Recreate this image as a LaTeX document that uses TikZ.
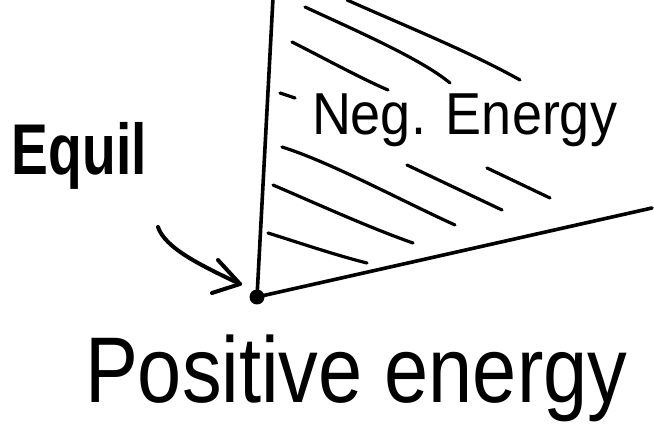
\documentclass[tikz,border=0pt]{standalone}
\usepackage{fontspec}
\setmainfont{Liberation Sans}
\usepackage{graphicx}
\begin{document}
\begin{tikzpicture}[x=1pt,y=-1pt,
  ink/.style={line width=3.6pt,line cap=round,line join=round,black},
  hatch/.style={line width=3.2pt,line cap=round,black},
  label/.style={inner sep=0pt,outer sep=0pt,anchor=base west}]
\useasboundingbox (0,0) rectangle (654,430);
% axes
\coordinate (top) at (273,-2);
\coordinate (right) at (652,208);
\node[circle,fill=black,inner sep=0pt,minimum size=15pt] (equil) at (257,297) {};
\draw[ink] (top) -- (equil.center);
\draw[ink] (equil.center) -- (right);
% hatches
\coordinate (a1) at (347,0);   \coordinate (a2) at (520,80);
\coordinate (b1) at (305,7);   \coordinate (b2) at (450,83);
\coordinate (c1) at (292,42);  \coordinate (c2) at (388,90);
\coordinate (d1) at (280,93);  \coordinate (d2) at (295,98);
\coordinate (e1) at (282,147); \coordinate (e2) at (455,225);
\coordinate (f1) at (407,165); \coordinate (f2) at (502,210);
\coordinate (g1) at (487,168); \coordinate (g2) at (550,198);
\coordinate (h1) at (273,185); \coordinate (h2) at (413,243);
\coordinate (i1) at (268,233); \coordinate (i2) at (367,263);
\draw[hatch] (a1) .. controls (410,28) and (470,52) .. (a2);
\draw[hatch] (b1) .. controls (350,28) and (420,58) .. (b2);
\draw[hatch] (c1) .. controls (320,56) and (360,78) .. (c2);
\draw[hatch] (d1) -- (d2);
\draw[hatch] (e1) .. controls (330,162) and (400,200) .. (e2);
\draw[hatch] (f1) -- (f2);
\draw[hatch] (g1) -- (g2);
\draw[hatch] (h1) .. controls (315,203) and (370,228) .. (h2);
\draw[hatch] (i1) .. controls (300,243) and (335,255) .. (i2);
% labels
\node[label] (neg) at (312,135) {\resizebox*{305pt}{53pt}{Neg. Energy}};
\node[label] (eq) at (12,175) {\resizebox*{135pt}{67pt}{\bfseries Equil}};
\node[label] (pos) at (85,403) {\resizebox*{542pt}{87pt}{Positive energy}};
% arrow
\coordinate (astart) at (158,227);
\coordinate (tip) at (240,284);
\coordinate (w1) at (218,260);
\coordinate (w2) at (212,293);
\draw[ink,line width=4pt] (astart) .. controls (165,248) and (200,265) .. (tip);
\draw[ink,line width=4pt] (w1) -- (tip) -- (w2);
\end{tikzpicture}
\end{document}
